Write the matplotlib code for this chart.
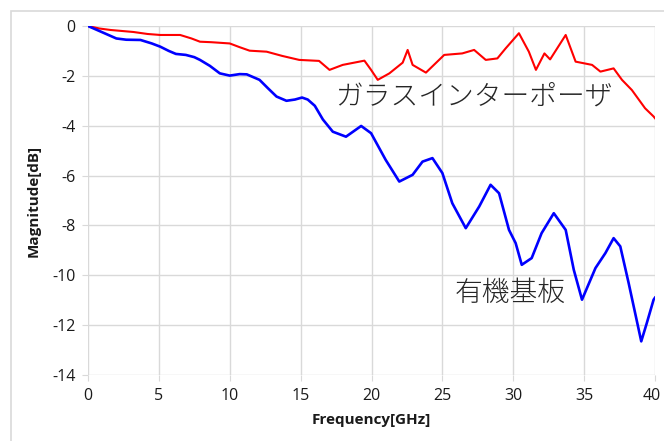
import matplotlib
matplotlib.use("Agg")
import matplotlib.pyplot as plt
import matplotlib.transforms as mtransforms
from matplotlib.patches import Rectangle

# Glass interposer (red)
glass_freq = [0, 0.8, 1.6, 3.2, 4.2, 5.1, 6.5, 7.3, 7.9, 8.7, 10.0, 10.7, 11.4, 12.6,
              13.7, 14.9, 16.3, 17.04, 17.97, 19.5, 19.97, 20.44, 21.26, 22.2, 22.55,
              22.9, 23.84, 25.13, 26.4, 27.24, 28.06, 28.88, 29.46, 30.4, 31.1, 31.6,
              32.2, 32.6, 33.7, 34.4, 35.56, 36.15, 37.08, 37.67, 38.37, 39.3, 39.9, 40.0]
glass_mag = [0, -0.10, -0.16, -0.24, -0.32, -0.36, -0.36, -0.50, -0.63, -0.65, -0.70, -0.85,
             -0.99, -1.03, -1.20, -1.36, -1.40, -1.76, -1.56, -1.39, -1.76, -2.16, -1.90,
             -1.47, -0.96, -1.56, -1.87, -1.16, -1.10, -0.96, -1.36, -1.30, -0.90, -0.29,
             -1.03, -1.76, -1.10, -1.34, -0.36, -1.43, -1.56, -1.83, -1.70, -2.16, -2.57,
             -3.30, -3.63, -3.70]

# Organic substrate (blue)
organic_freq = [0, 1.0, 2.0, 2.7, 3.7, 4.5, 5.1, 5.7, 6.2, 6.9, 7.5, 7.9, 8.6, 9.3, 10.0,
                10.7, 11.2, 12.1, 12.7, 13.3, 14.0, 14.6, 15.1, 15.5, 16.0, 16.57, 17.27,
                18.2, 19.27, 19.97, 21.0, 21.96, 22.9, 23.6, 24.3, 25.0, 25.7, 26.65,
                27.6, 28.4, 29.0, 29.7, 30.17, 30.6, 31.3, 32.0, 32.86, 33.7, 34.27,
                34.85, 35.8, 36.5, 37.08, 37.55, 38.14, 38.6, 39.03, 39.42, 39.9, 40.0]
organic_mag = [0, -0.25, -0.50, -0.55, -0.56, -0.70, -0.83, -1.00, -1.12, -1.16, -1.25, -1.36,
               -1.60, -1.90, -1.99, -1.93, -1.94, -2.16, -2.50, -2.83, -3.00, -2.95, -2.87,
               -2.95, -3.20, -3.75, -4.24, -4.44, -4.01, -4.30, -5.37, -6.24, -5.97, -5.44,
               -5.30, -5.90, -7.11, -8.11, -7.24, -6.37, -6.71, -8.18, -8.71, -9.58, -9.31,
               -8.31, -7.51, -8.18, -9.78, -10.98, -9.71, -9.11, -8.51, -8.84, -10.31,
               -11.52, -12.65, -11.92, -10.98, -10.90]

x_ticks = [0, 5, 10, 15, 20, 25, 30, 35, 40]
y_ticks = [0, -2, -4, -6, -8, -10, -12, -14]

label_glass = "ガラスインターポーザ"
label_organic = "有機基板"

plt.rcParams['font.family'] = ['Open Sans', 'DejaVu Sans']

W, H = 664, 441
fig = plt.figure(figsize=(W / 100, H / 100), dpi=100)
fig.patch.set_facecolor('white')

# outer chart border
fig.patches.append(Rectangle((11 / W, -0.1), 1.2, (H - 11) / H + 0.1,
                             transform=fig.transFigure, fill=False,
                             edgecolor='#d9d9d9', linewidth=1.2))

ax = fig.add_axes([88 / W, 1 - 375 / H, (655 - 88) / W, (375 - 26) / H])
ax.set_xlim(0, 40)
ax.set_ylim(-14, 0)
ax.set_xticks(x_ticks)
ax.set_yticks(y_ticks)
ax.set_xticklabels([str(v) for v in x_ticks])
ax.set_yticklabels([str(v) for v in y_ticks])
ax.grid(True, color='#d9d9d9', linewidth=1.0)
ax.set_axisbelow(True)
for s in ax.spines.values():
    s.set_visible(False)
ax.tick_params(axis='both', length=4, color='#d9d9d9', labelsize=11.5,
               labelcolor='#1a1a1a', pad=5)

# keep the last x tick label inside the figure
last = ax.get_xticklabels()[-1]
last.set_transform(last.get_transform() +
                   mtransforms.ScaledTranslation(-3 / 100, 0, fig.dpi_scale_trans))

ax.plot(glass_freq, glass_mag, color='#ff0000', linewidth=1.5)
ax.plot(organic_freq, organic_mag, color='#0000ff', linewidth=1.9)

jp = ['Noto Sans CJK JP', 'DejaVu Sans']
ax.text(17.45, -2.85, label_glass, fontsize=20, family=jp, color='#262626',
        va='center', ha='left', fontweight='light')
ax.text(25.9, -10.7, label_organic, fontsize=20, family=jp, color='#262626',
        va='center', ha='left', fontweight='light')

ax.set_xlabel('Frequency[GHz]', fontsize=11, fontweight='bold', color='#1a1a1a', labelpad=7)
ax.set_ylabel('Magnitude[dB]', fontsize=11, fontweight='bold', color='#1a1a1a', labelpad=8)

fig.savefig('out.png', dpi=100)
